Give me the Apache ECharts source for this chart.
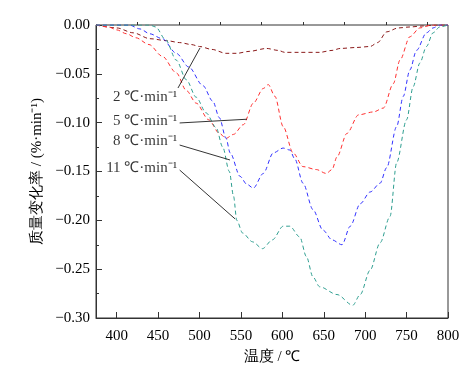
<!DOCTYPE html>
<html><head><meta charset="utf-8">
<script src="https://cdn.jsdelivr.net/npm/echarts@6/dist/echarts.min.js"></script>
<style>html,body{margin:0;padding:0;background:#fff}#c{width:474px;height:377px}</style>
</head><body><div id="c"></div>
<script>
// Tick labels
const xTicks = [400, 450, 500, 550, 600, 650, 700, 750, 800];
const xMinorTicks = [425, 475, 525, 575, 625, 675, 725, 775];
const yTicks = [0, -0.05, -0.10, -0.15, -0.20, -0.25, -0.30];

// Series: 2 ℃/min
const t2 = [375,400,420,440,460,476,490,500,515,532,545,560,581,595,603,620,645,660,670,690,706,715,726,740,754,770,785,800];
const v2 = [0,-0.003,-0.008,-0.014,-0.016,-0.018,-0.020,-0.022,-0.025,-0.029,-0.029,-0.027,-0.024,-0.026,-0.028,-0.028,-0.028,-0.026,-0.024,-0.023,-0.022,-0.018,-0.007,-0.003,-0.002,-0.001,0,0];
// 5 ℃/min
const t5 = [375,390,400,412,423,439,455,472,484,496,511,524,532,541,553,565,577,583,591,601,613,625,641,653,660,666,678,692,710,722,734,742,754,766,780,800];
const v5 = [0,-0.002,-0.005,-0.009,-0.013,-0.020,-0.032,-0.049,-0.067,-0.080,-0.097,-0.111,-0.116,-0.112,-0.102,-0.080,-0.065,-0.061,-0.073,-0.104,-0.131,-0.145,-0.148,-0.152,-0.148,-0.135,-0.111,-0.092,-0.089,-0.085,-0.060,-0.036,-0.012,-0.003,0,0];
// 8 ℃/min
const t8 = [375,415,428,440,455,472,487,504,516,524,532,537,549,557,565,577,589,601,609,615,625,637,649,660,672,682,694,706,718,726,738,746,754,762,774,782,790,800];
const v8 = [0,0,-0.004,-0.009,-0.014,-0.029,-0.043,-0.062,-0.078,-0.095,-0.116,-0.131,-0.155,-0.163,-0.167,-0.152,-0.131,-0.126,-0.128,-0.137,-0.162,-0.189,-0.210,-0.220,-0.225,-0.206,-0.183,-0.171,-0.162,-0.146,-0.104,-0.073,-0.046,-0.026,-0.008,-0.003,0,0];
// 11 ℃/min
const t11 = [375,440,447,459,472,484,496,508,520,528,536,541,545,552,564,576,588,601,609,621,629,637,645,666,685,694,706,718,730,738,750,758,766,774,782,790,800];
const v11 = [0,0,-0.002,-0.015,-0.036,-0.056,-0.074,-0.090,-0.105,-0.125,-0.150,-0.175,-0.200,-0.213,-0.222,-0.229,-0.220,-0.206,-0.206,-0.217,-0.237,-0.258,-0.268,-0.276,-0.287,-0.276,-0.251,-0.223,-0.196,-0.141,-0.097,-0.063,-0.039,-0.022,-0.008,-0.002,0];

const seriesNames = ['2 ℃·min⁻¹', '5 ℃·min⁻¹', '8 ℃·min⁻¹', '11 ℃·min⁻¹'];
// annotation anchors in data coordinates: text end, leader start, leader end
const labelT = [473, 473, 473, 473];
const labelV = [-0.0737, -0.098, -0.119, -0.1464];
const leadStartT = [474, 476, 476, 476];
const leadStartV = [-0.0645, -0.1003, -0.1229, -0.1485];
const leadEndT = [500.6, 557, 536.8, 543];
const leadEndV = [-0.0235, -0.0965, -0.1382, -0.1986];

const colors = ['#8B1A1A', '#FF3030', '#3232FF', '#2E9E90'];
const FONT = 'Liberation Serif';

const zip = (a, b) => a.map((x, i) => [x, b[i]]);
const dataSets = [zip(t2, v2), zip(t5, v5), zip(t8, v8), zip(t11, v11)];

const series = [];
dataSets.forEach((d, i) => {
  series.push({
    type: 'line', data: d, showSymbol: false, symbol: 'none',
    smooth: 0.3, smoothMonotone: 'x',
    lineStyle: { color: colors[i], width: 1, type: [4, 3] },
    z: 3
  });
});
for (let i = 0; i < 4; i++) {
  series.push({
    type: 'line', data: [[leadStartT[i], leadStartV[i]], [leadEndT[i], leadEndV[i]]],
    symbol: 'none', lineStyle: { color: '#000', width: 0.8 }, z: 4, silent: true
  });
}
series.push({
  type: 'scatter', symbolSize: 0, silent: true,
  data: labelT.map((t, i) => ({ value: [t, labelV[i]], name: seriesNames[i] })),
  label: {
    show: true, position: 'left', distance: 0,
    formatter: p => p.name, color: '#000', fontFamily: FONT, fontSize: 15
  }
});

const chart = echarts.init(document.getElementById('c'));
chart.setOption({
  animation: false,
  backgroundColor: '#fff',
  textStyle: { fontFamily: FONT },
  grid: { left: 96, right: 26, top: 25, bottom: 59, show: true, borderColor: '#333', borderWidth: 1 },
  xAxis: [{
    type: 'value', min: 375, max: 800,
    name: '温度 / ℃', nameLocation: 'middle', nameGap: 32,
    nameTextStyle: { fontFamily: FONT, fontSize: 15, color: '#000' },
    axisLine: { show: true, onZero: false, lineStyle: { color: '#333' } },
    axisTick: { show: true, inside: true, length: 6, customValues: xTicks, lineStyle: { color: '#333' } },
    axisLabel: { customValues: xTicks, fontFamily: FONT, fontSize: 15, color: '#000', margin: 11 },
    splitLine: { show: false }
  }, {
    type: 'value', min: 375, max: 800, position: 'bottom',
    axisLine: { show: false },
    axisTick: { show: true, inside: true, length: 3, customValues: xMinorTicks, lineStyle: { color: '#333' } },
    axisLabel: { show: false }, splitLine: { show: false }
  }],
  yAxis: {
    type: 'value', min: -0.30, max: 0, interval: 0.05,
    name: '质量变化率 / (%·min⁻¹)', nameLocation: 'middle', nameGap: 50,
    nameTextStyle: { fontFamily: FONT, fontSize: 15, color: '#000' },
    axisLine: { show: true, onZero: false, lineStyle: { color: '#333' } },
    axisTick: { show: true, inside: true, length: 6, lineStyle: { color: '#333' } },
    minorTick: { show: true, splitNumber: 2, length: 3, lineStyle: { color: '#333' } },
    axisLabel: {
      fontFamily: FONT, fontSize: 15, color: '#000', margin: 6,
      formatter: v => Math.abs(v) < 1e-9 ? '0.00' : '\u2212' + Math.abs(v).toFixed(2)
    },
    splitLine: { show: false }
  },
  series: series
});
</script></body></html>
